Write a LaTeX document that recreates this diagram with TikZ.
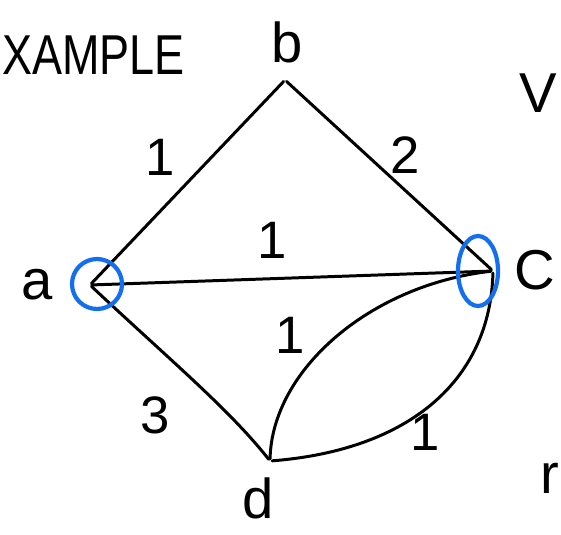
\documentclass[tikz,border=0pt]{standalone}
\usepackage{fontspec}
\setmainfont{Liberation Sans}
\usepackage{tikz}
\usepackage{xcolor}
\usetikzlibrary{positioning, calc}
\definecolor{cMark}{RGB}{20,110,240}
\tikzset{
	vtx/.style     ={circle, inner sep=0pt, minimum size=2pt},
	vlabel/.style  ={font=\fontsize{32}{36}\selectfont},
	wlabel/.style  ={font=\fontsize{30}{34}\selectfont},
	edge/.style    ={line width=1.7pt, line cap=round, line join=round},
	markring/.style={draw=cMark, line width=2.4pt},
}
\begin{document}
\begin{tikzpicture}[x=0.02cm, y=-0.02cm]
	\useasboundingbox (0,0) rectangle (561,534);
	% vertices
	\node[vtx] (a) at (90,285){};
	\node[vtx] (b) at (285,80){};
	\node[vtx] (c) at (493,271){};
	\node[vtx] (d) at (270,461){};
	% vertex names
	\node[vlabel] (la) at (37,285){a};
	\node[vlabel] (lb) at (287,42){b};
	\node[vlabel] (lc) at (535,270){C};
	\node[vlabel] (ld) at (258,498){d};
	% side texts
	\node[vlabel, anchor=west, xscale=0.8, inner sep=0pt] (title) at (2,55){XAMPLE};
	\node[vlabel] (lv) at (538,93){V};
	\node[vlabel, anchor=east, inner sep=1pt] (lr) at (561,478){r};
	% edges
	\draw[edge] (a)--(b);
	\draw[edge] (b)--(c);
	\draw[edge] (a)--(c);
	\draw[edge] (a) .. controls (170,360) and (230,410) .. (d);
	\draw[edge] (d) .. controls (272,370) and (370,285) .. (c);
	\draw[edge] (d) .. controls (410,450) and (490,380) .. (c);
	% weights
	\node[wlabel] (w1) at (160,157){1};
	\node[wlabel] (w2) at (405,155){2};
	\node[wlabel] (w3) at (272,240){1};
	\node[wlabel] (w4) at (290,335){1};
	\node[wlabel] (w5) at (155,415){3};
	\node[wlabel] (w6) at (425,432){1};
	% blue rings
	\draw[markring] (97,284) circle [radius=25];
	\draw[markring] (478,271) ellipse [x radius=20, y radius=35];
\end{tikzpicture}
\end{document}
